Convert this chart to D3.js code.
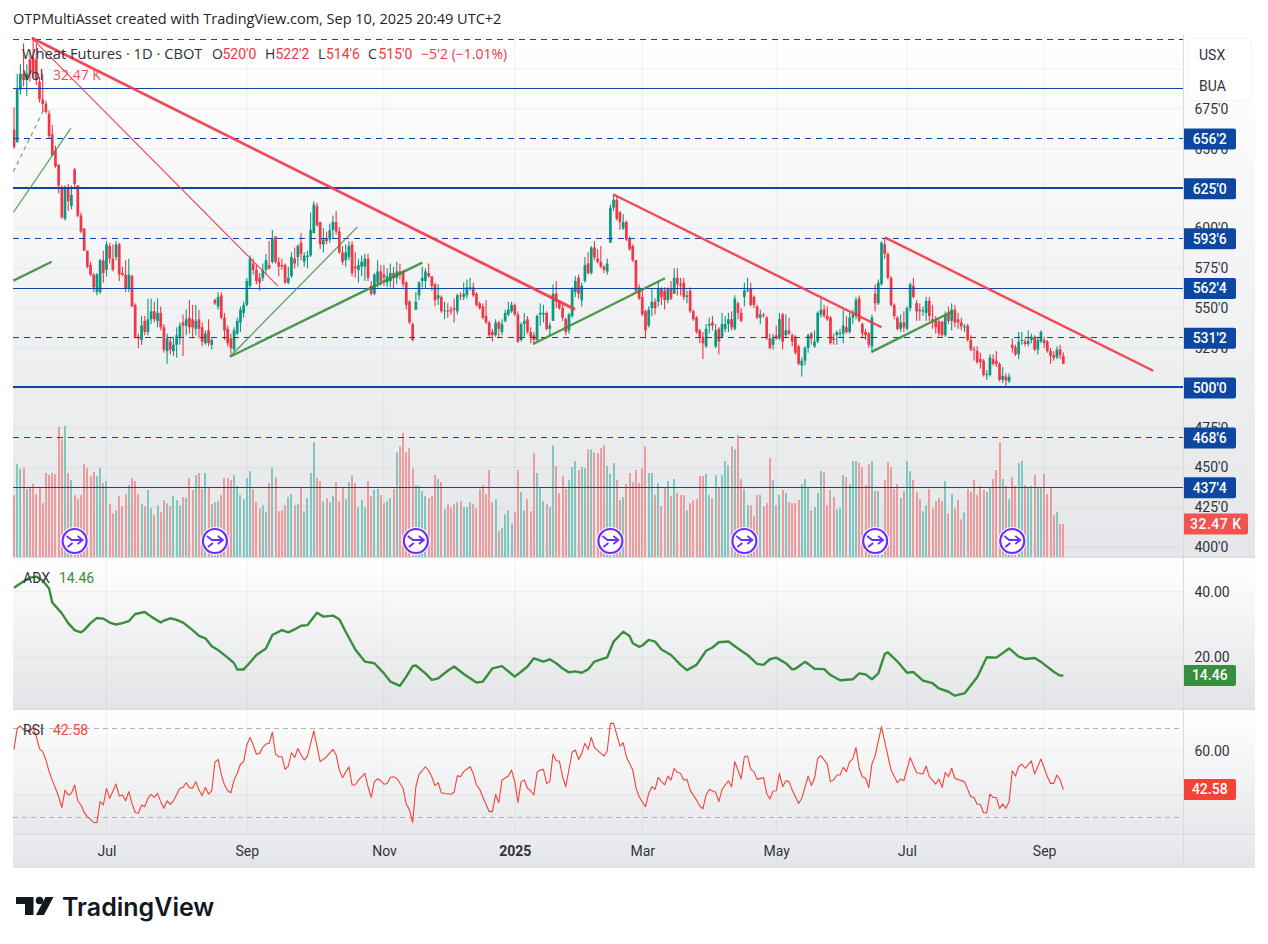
<!DOCTYPE html>
<html>
<head>
<meta charset="utf-8">
<title>Wheat Futures</title>
<script src="https://cdn.jsdelivr.net/npm/d3@7"></script>
<style>
  html, body { margin: 0; padding: 0; background: #fff; }
  svg { display: block; font-family: Roboto, "Open Sans", sans-serif; }
</style>
</head>
<body>
<svg id="chart" width="1268" height="944"></svg>
<script>
// Daily candles, oldest first
const opens = [
662,654,687,697,693,706,707,706,692,681,678,672,659,649,640,626,606,626,614,637,
627,608,600,586,577,571,560,560,580,574,589,581,582,590,572,571,562,570,552,532,
530,542,535,543,548,542,547,538,523,529,523,527,532,541,539,544,543,537,543,538,
528,536,527,555,551,558,544,537,531,524,534,541,547,552,564,578,574,569,569,574,
577,579,595,579,577,577,566,570,581,582,591,579,582,583,597,614,604,590,594,593,
599,604,598,585,580,582,590,576,574,576,576,581,564,559,566,573,571,566,567,572,
569,573,573,
566,554,540,549,558,567,567,572,570,565,556,557,548,548.5,549,550,548,558,557,558,
562,563,559,553,551,545,541,535,533,541,535,542,546,548,552,546,530,540,543,535,
533,530,546,546,547,537,542,559,554,550,543,536,545,560,569,555,567,578,572,588,
581,579,576,573,591,613,618,610,600,604,594,589,580,563,557,548,539,550,554,554,
562,561,555,562,559,569,565,566,557,561,548,544,536,532,526,539,541,526,537,532,
537,540,543,537,553,547,557,561,562,557,551,544,546,544,531,527,533,531,546,533,
536,533,532,526,514,517,525,534,526,529,
546,549,545,544,531,533,534,534,538,535,544,545,556,540,535,534,526,559,553,565,
590,584,569,552,544,537,541,537,550,564,553,549,548,547,554.5,543,543,541.5,541.5,533,
547,542,549,543,541,538,539,530,524,523,518,517,508,508,518,517,515,505,507,504,
527,525.5,521,529.5,529,527.5,530,532,524,529,530,529,523,520.5,519,524,520];
const highs = [
676,697,703,716,703,712,720,716,695,697,680,674,665,652,640,627,627,628,627,638,
627,610,600,586,579,572,572,581,586,592,591,590,592,591,576,580,581,571,553,534,
545,545,556,556,554,556,551,540,534,532,532,538,541,546,549,555,552,552,549,541,
536,543,531,556,560,560,547,539,534,538,544,551,554,569,583,581,577,572,578,584,
592,599,595,582,581,578,576,585,588,590,597,585,586,610,617,616,604,600,598,603,
608,611,601,589,590,592,592,585,581,583,584,584,567,572,580,577,577,575,578,576,
579,578,574,
567,555,541,560,567,576,575,578,570,566,565,558,554,553,551,556,559,560,566,568,
569,566,560,554,553,555,542,537,543,542,543,549,554,554,553,548,541,547,545,538,
535,546,553,552,548,541,565,567,555,553,544,547,563,570,571,566,582,585,589,592,
587,589,577,581,615,621,621,611,609,605,595,590,580,565,562,549,551,562,556,567,
563,563,563,567,575,575,569,569,561,563,549,545,537,535,540,544,545,540,538,547,
545,547,548,558,554,550,566,569,566,558,552,549,547,545,534,534,539,547,547,546,
544,534,533,527,519,526,534,535,536,548,
556,552,551,545,534,536,537,549,545,547,549,557,558,541,537,535,546,565,568,592,
594,585,570,553,545,546,548,551,566,569,555,553,551,557,557,552,545,543,542,548,
551,553,552,547,544,540,540,533,526,526,522,518,511,521,521,523,516,513,509,509,
531,527,535,535,531,536,534,533,532,536,532,530,525,523,526,527,522.25];
const lows = [
650,654,684,689,683,692,695,690,679,673,672,656,645,638,622,606,605,611,612,626,
607,597,586,575,570,560,558,559,566,570,578,573,580,567,570,560,560,551,531,525,
527,533,533,540,541,538,536,522,515,521,520,519,527,520,533,534,531,533,531,526,
527,526,524,552,549,543,530,526,521,522,533,535,544,551,562,571,565,561,567,571,
574,578,578,570,574,565,565,569,575,576,580,576,575,582,597,601,587,585,590,591,
594,596,584,577,576,580,570,569,566,570,567,567,558,558,563,564,564,563,563,562,
565,568,563,
549,540,529,549,555,563,562,569,561,551,552,547,543,544,546,541,546,555,555,556,
561,557,551,549,543,540,532,529,532,531,533,541,545,547,545,528,529,532,534,528,
527,529,539,541,536,533,542,550,549,542,533,534,544,557,556,551,566,571,571,580,
578,575,572,571,591,611,605,599,599,592,586,579,560,555,545,531,538,545,546,551,
552,549,553,555,559,558,558,555,553,547,542,534,528,518,525,534,536,525,521,531,
535,535,536,536,543,541,551,560,551,550,543,540,544,530,524,524,530,530,524,531,
533,526,521,514,507,514,522,527,525,528,
544,544,542,527,527,527,532,528,534,534,540,543,541,531,530,525,522,548,552,564,
581,568,551,543,536,535,535,536,548,556,542,542,545,542,542,537,534,532,532,532,
540,536,538,537,536,535,529,523,517,515,512,507,505,507,514,513,504,503,501,503,
522,520,518,527,526,526,528,523,521,528,525,522,515,517,518,518,514.75];
const closes = [
651,688,697,693,697,697,697,693,681,678,673,658,646,639,627,607,626,617,621,628,
608,598,586,576,571,563,571,580,572,590,581,574,590,571,571,562,571,551,532,531,
539,535,543,548,543,547,538,524,531,524,527,533,539,539,543,538,538,542,537,529,
534,528,530,553,557,544,536,528,525,536,542,549,552,567,581,574,567,566,574,580,
575,594,579,576,576,566,569,582,578,589,584,583,583,599,615,602,590,593,592,599,
604,598,585,579,585,589,572,575,577,579,581,569,559,571,573,567,569,570,572,569,
573,571,565,
552,541,530,554,566,569,573,570,564,555,558,548,548.5,548,548,549,558,557.5,559,563,
563,558,552,550,544,541,533,533,541,537,540,547,549,552,546,529,540,542,535,532,
530,545,547,547,537,539,559,554,550,544,535,546,562,567,559,564,577,572,588,582,
579,576,574,578,613,618,606,604,604,593,587,580,561,556,546,536,549,554,550,562,
557,555,562,556,569,565,564,557,558,548,543,535,532,528,537,540,539,536,529,540,
540,543,538,556,547,542,561,561.5,552,552,544,546,545.5,531,525,531,531,543,529,536,
534,529,522,515,517,525,533,531,529,547,
549,545,543,528,530,535,534.5,539,535,544,546,555,542,534,533,527,544,553,566,591,
584,569,552,545,537,541,538,550,565,557,548,548,548.5,554.5,545,541.5,538,534,533,546,
542,549,541,541,538.5,538.5,530,524,523.5,516,516,508,508.5,519,515,515,505,507.5,504.5,507,
525,521,529,530,527.5,529.5,532,524,530,535,528,523,520,519,524,520.5,515];

// Daily volume in thousands of contracts
const volumes = [
61,91.5,86.6,87.6,67,68,72,62,68,53,82.7,80.7,82.7,81.7,128,116,129,82.7,75.8,61,
57,61,91.5,87.6,79.7,83.6,79.7,87.6,72.8,74.8,52,43,46,60,50,62,70.8,77.7,74.8,62,
52,50,66,48,41,51,44,56,53,50,60,56,51,59,58,77.7,66,80.7,82.7,67,
82.7,68,52,54,55,61,77.7,77.7,75.8,80.7,70,61,57,77.7,84.6,67,54,48,51,44,
72.8,87.6,78.7,45,46,51,59,62,51,52,68,45,58,82.7,113,77.7,74.8,55,58,54,
60,73.8,55,68,57,73.8,80.7,72.8,49,56,49,74.8,60,66,67,61,53,55,58,67,
103,109,122,103,107,87.6,70.8,70,
65,60,58,60,80.7,76.8,73.8,47,52,49,52,54,55,49,49,54,52,48,67,70.8,
62,85.6,54,57,25.6,28.5,42,46,33,44,85.6,64,46,57,45,102,82.7,68,55,52,
49,110,89.5,63,79.7,67,75.8,88.6,94.5,85.6,88.6,87.6,106,106,103,102,107,110,89.5,81.7,
92.5,75.8,56,59,71.8,82.7,73.8,85.6,72.8,87.6,109,82.7,82.7,61,72.8,50,68,74.8,60,76.8,
63,61,61,46,53,56,57,79.7,79.7,81.7,61,58,80.7,68,80.7,94.5,90.5,109,106,120,
76.8,67,51,51,40,61,61,50,53,97.4,75.8,51,61,66,63,54,53,53,56,71.8,
76.8,68,46,49,63,84.6,83.6,51,66,59,47,48,
80.7,78.7,71.8,94.5,94.5,92.5,88.6,70.8,91.5,94.5,65,65,2,75.8,93.5,88.6,67,71.8,58,65,
94.5,84.6,75.8,64,57,45,51,67,48,55,58,55,74.8,43,62,48,56,37,44,67,
64,75.8,61,70,66,64,68,76.8,85.6,113,76.8,70,57,78.7,70,92.5,94.5,70.8,69,70,
80.7,68,68,81.7,62,68,41,44,32.5,32.47];

// ADX vertices: bar number and reading
const adxBars = [0,2,5,7,9,11,12,15,17,19,21,22,24,26,28,30,32,34,36,38,41,43,46,47,49,51,53,56,58,60,62,64,67,69,70,72,74,76,79,81,84,86,88,90,92,95,97,100,102,104,107,110,113,116,118,121,123,125,126,129,131,133,136,138,141,145,147,150,153,157,159,161,163,166,168,170,172,174,176,178,180,182,186,188,191,193,194,196,197,199,201,203,206,209,211,214,217,219,221,224,227,230,232,233,235,237,239,242,244,245,248,249,251,254,256,259,263,265,267,269,271,273,274,277,280,282,285,288,290,293,295,298,302,305,308,312,315,317,320,322,326,328,329];
const adxValues = [41.2,42.5,44.3,44.6,43.4,41,36.7,33.4,30.4,28.3,27.6,28.3,30.4,32,31.8,30.6,30,30.4,31,33.2,33.8,32.4,30.6,31.2,31.9,31.4,30.6,28.3,26.5,25.8,23.4,22.2,19.9,18.2,16.3,16.3,18.4,20.7,22.7,26.8,28.3,27.6,28.5,29.6,29.8,33.6,32.4,32.7,31.6,27.8,22.4,18.7,18.2,15.1,12.6,11.3,14.1,17.3,17.5,15.1,13.1,13.6,15.9,17.2,14.9,12.3,12.6,16.6,17.3,14.1,15.6,17.2,19.7,18.7,19.4,18.2,16.6,15.4,15.7,15.3,16.3,18.7,20,24.8,27.8,26.5,24.3,23.2,23.6,25.3,24.8,22.4,20.7,17.7,16.1,17.7,22,23,24.6,24.8,22.7,20.7,18.9,18,17.7,19.4,19.9,18.2,16.3,16.5,18.6,18,16.5,16.4,14.6,13,13.3,15.1,14.8,13.3,15.1,21,21.5,18.7,15.3,15.5,12.9,12.1,10.5,9.5,8.3,9,13.9,20,19.9,22.7,20.2,19.5,19.8,18.6,15.6,14.4,14.46];

// RSI vertices: bar number and reading
const rsiBars = [0,1,2,3,5,6,7,8,9,10,11,12,13,14,15,16,17,18,19,20,21,22,23,25,26,27,28,29,30,32,33,34,35,36,37,38,39,40,41,42,43,44,45,46,47,48,49,50,52,53,54,55,56,57,58,59,60,61,62,63,64,65,66,67,68,69,70,71,72,73,74,75,76,77,78,79,80,81,82,83,84,85,86,87,88,89,90,91,92,94,96,98,100,101,102,103,105,106,107,108,110,111,112,113,114,115,116,117,118,119,120,122,123,124,125,126,127,128,129,130,131,132,133,134,135,137,138,139,140,141,143,144,145,146,147,149,150,151,152,153,155,156,157,158,159,160,161,162,163,164,165,166,167,168,169,170,171,172,173,175,176,177,178,179,180,181,182,184,185,186,187,188,190,191,192,194,195,196,198,199,200,201,202,203,204,205,206,207,208,209,210,211,212,214,215,216,217,218,220,221,222,224,225,226,228,229,230,231,232,233,235,236,237,238,239,240,241,242,243,244,246,247,249,250,251,252,253,255,256,257,258,259,260,261,262,263,264,265,266,267,268,269,270,272,273,275,277,278,279,281,283,285,286,287,289,290,291,292,293,294,295,296,298,300,301,302,303,304,305,306,307,308,309,310,311,312,313,314,315,316,317,319,320,322,324,325,326,327,328,329];
const rsiValues = [60.6,70,71.1,69.3,68.6,70.4,66.3,60.8,59.6,55.8,50.6,46.8,43.1,39.3,34.4,42.3,40.1,40.8,44.6,37.5,35.6,32.3,30.4,27.8,27.7,37.1,35.6,43.1,38.6,45,39.6,40.1,37.5,41.6,36.3,32.2,31.9,35.6,34.8,38.6,40.4,39,40.8,37.1,34.1,37.5,35.9,37.5,43.1,43.5,45.6,43.4,43.1,46.1,42.3,39.8,43.5,40.5,42,54.8,56.1,49.1,44.6,42,41.1,46.8,49.8,53.9,55.1,62.6,66,62.6,58.4,58.8,61.5,63,63.3,68.3,58.5,57.3,57.3,51.6,53.1,59.1,57,61,58.1,55.8,57.6,68.9,55.1,57.3,60.6,58.1,51.3,47.9,52.8,44.6,44.6,46.8,49.8,43.8,39,46.1,47.4,46.5,44.9,45.3,48,48.3,47.6,43.1,35.9,33.4,27.7,43.8,49.4,51,52.8,51,48.3,44.3,45.6,41.1,40.8,40.4,41.3,48.8,48.3,50.6,52.8,49.8,44.6,42.7,39.2,32.6,32.6,40.4,36.6,46.8,48.6,51.3,46.1,36.8,46.1,46.8,43.1,42,40.1,50.3,51.3,51.6,45.3,46.1,58.5,55.5,55.4,48.3,43.8,59.3,60.3,56.1,58.8,63.3,60.6,66,61.4,58.8,57.6,59.9,72.3,72.3,62.1,63.6,57.3,51.3,43.5,39.3,34.8,40.8,43.8,42.6,48,46.1,44.6,48.6,46.8,52.1,50.3,49.8,46.8,47.1,42.3,37.8,35.1,33.9,40.1,42.6,41.3,37.1,42.6,46.5,43.8,55.1,47.3,57.3,57.6,51.6,50.6,47.1,47.9,40.8,38.3,41.9,42,49.8,43.8,46.5,46.1,42.3,36.3,38.6,48.6,44.4,47.6,56.6,57.8,54,46.1,46.8,49.1,49.1,52.5,50.6,55.1,56.3,61.4,52.1,48.3,47.6,43.4,54,57.8,70.8,64.1,51.3,45.6,47.3,46.5,56.9,50.1,49.5,53.1,48.3,45,47.3,43.5,50.3,48.3,52.1,47.6,47.1,46.1,39.3,39,35.9,35.9,32.1,32.1,40.5,39,39,34.1,36,34.1,37.1,51,48.6,52.8,54,52.1,55.4,49.5,56.3,48.3,45.3,45.3,49.1,46.8,42.58];

// Horizontal price levels: value and line style
const levelPrices = [718.75,687.5,656.25,625,593.75,562.5,531.25,500,468.75,437.5];
const levelWidths = [1,1,1,2,1,1,1,2,1,1];
const levelDashed = [true,false,true,false,true,false,true,false,true,false];
const levelLabelled = [false,false,true,true,true,true,true,true,true,true];

// Trend lines: bar and price at each end
const trendRed = [
  {b0:5.6,p0:719.4,b1:175.9,p1:549.2,w:2.8,op:0.9},
  {b0:5.6,p0:719.4,b1:82.7,p1:563.9,w:1.2,op:0.9},
  {b0:187.8,p0:621.4,b1:272,p1:538,w:2.4,op:0.9},
  {b0:273,p0:594.4,b1:357.2,p1:510.7,w:2.4,op:0.9}
];
const trendGreen = [
  {b0:-0.2,p0:567.2,b1:11.8,p1:579.1,w:2.4,op:0.9},
  {b0:-0.2,p0:610,b1:17.8,p1:662.8,w:1.2,op:0.85},
  {b0:-0.2,p0:635.6,b1:10.8,p1:680.5,w:1.2,op:0.75,dash:"4 4"},
  {b0:67.7,p0:519.5,b1:128,p1:578.5,w:2.4,op:0.9},
  {b0:67.7,p0:519.5,b1:107.7,p1:601,w:1.2,op:0.85},
  {b0:162.8,p0:527.5,b1:204.1,p1:568.7,w:2.4,op:0.9},
  {b0:268.9,p0:522.5,b1:294,p1:547.7,w:2.4,op:0.9}
];

// Contract roll markers, by bar
const rollBars = [19,63,126,187,229,270,313];

// Time axis ticks: bar number and caption
const monthBars = [29,73,116,157,197,239,280,323];
const monthLabels = ["Jul","Sep","Nov","2025","Mar","May","Jul","Sep"];

const priceTicks = d3.range(400,701,25);
const adxTicks = [20,40];
const rsiTicks = [40,60];
const rsiBands = [30,70];

const RED = "#f23645", GREEN = "#089981", NAVY = "#0d47a1";
const left = 13, plotRight = 1183.5, right = 1255;

const svg = d3.select("#chart");
const defs = svg.append("defs");

// Each pane fades from white to a light grey
const panes = [
  {id:"main", y0:35, y1:557, end:"#e5e6e9"},
  {id:"adx", y0:558, y1:709, end:"#e3e4e7"},
  {id:"rsi", y0:710, y1:834, end:"#e7e8eb"},
  {id:"time", y0:834, y1:868, end:"#e3e4e7", start:"#ecedf0"}
];
panes.forEach(p => {
  const g = defs.append("linearGradient").attr("id","grad-"+p.id)
    .attr("x1",0).attr("x2",0).attr("y1",0).attr("y2",1);
  g.append("stop").attr("offset",0).attr("stop-color",p.start || "#ffffff");
  g.append("stop").attr("offset",1).attr("stop-color",p.end);
  svg.append("rect").attr("x",left).attr("y",p.y0)
    .attr("width",right-left).attr("height",p.y1-p.y0)
    .attr("fill","url(#grad-"+p.id+")");
});
defs.append("clipPath").attr("id","plot-clip").append("rect")
  .attr("x",left).attr("y",35).attr("width",plotRight-left).attr("height",522);

// Scales
const x = d3.scaleLinear().domain([0,329]).range([14,1063.3]);
const yPrice = d3.scaleLinear().domain([400,700]).range([547.2,69]);
const yVol = d3.scaleLinear().domain([0,130]).range([557,425]);
const yAdx = d3.scaleLinear().domain([20,40]).range([657.3,591.7]);
const yRsi = d3.scaleLinear().domain([40,60]).range([795.2,750.7]);
const px = i => Math.round(x(i));

const fmtPrice = v => {
  const whole = Math.floor(v);
  return whole + "'" + Math.round((v-whole)*8);
};

// Grid
const grid = svg.append("g").attr("stroke","#2a2e39").attr("stroke-opacity",0.06).attr("stroke-width",1);
const hgrid = (ticks, scale) => grid.selectAll(null).data(ticks).join("line")
  .attr("x1",left).attr("x2",plotRight)
  .attr("y1",d=>scale(d)).attr("y2",d=>scale(d));
hgrid(priceTicks,yPrice); hgrid(adxTicks,yAdx); hgrid(rsiTicks,yRsi);
[[35,557],[558,709],[710,834]].forEach(([a,b]) => {
  grid.selectAll(null).data(monthBars).join("line")
    .attr("x1",d=>x(d)).attr("x2",d=>x(d)).attr("y1",a).attr("y2",b);
});

// Volume bars sit under the candles, tinted by candle direction
const up = i => closes[i] >= opens[i];
svg.append("g").selectAll("rect").data(volumes).join("rect")
  .attr("x",(d,i)=>px(i)-1).attr("width",2)
  .attr("y",d=>yVol(d)).attr("height",d=>yVol(0)-yVol(d))
  .attr("fill",(d,i)=>up(i) ? "#83c6bd" : "#ec9c9d");

// Candles
const candles = svg.append("g").attr("clip-path","url(#plot-clip)");
candles.selectAll("rect.wick").data(closes).join("rect").attr("class","wick")
  .attr("x",(d,i)=>x(i)-0.55).attr("width",1.1)
  .attr("y",(d,i)=>yPrice(highs[i]))
  .attr("height",(d,i)=>yPrice(lows[i])-yPrice(highs[i]))
  .attr("fill",(d,i)=>up(i)?GREEN:RED);
candles.selectAll("rect.body").data(closes).join("rect").attr("class","body")
  .attr("x",(d,i)=>x(i)-1.35).attr("width",2.7)
  .attr("y",(d,i)=>yPrice(Math.max(opens[i],closes[i])))
  .attr("height",(d,i)=>Math.max(1,Math.abs(yPrice(opens[i])-yPrice(closes[i]))))
  .attr("fill",(d,i)=>up(i)?GREEN:RED);

// Price levels, snapped to whole pixels so thin lines stay crisp
const snap = (v,w) => w % 2 ? Math.floor(v)+0.5 : Math.floor(v);
svg.append("g").selectAll("line").data(levelPrices).join("line")
  .attr("x1",left).attr("x2",plotRight)
  .attr("y1",(d,i)=>snap(yPrice(d),levelWidths[i])).attr("y2",(d,i)=>snap(yPrice(d),levelWidths[i]))
  .attr("stroke",NAVY)
  .attr("stroke-width",(d,i)=>levelWidths[i])
  .attr("stroke-dasharray",(d,i)=>levelDashed[i]?"6 5":null);

// Trend lines
const drawTrends = (rows,color) => svg.append("g").attr("clip-path","url(#plot-clip)")
  .selectAll("line").data(rows).join("line")
  .attr("x1",d=>x(d.b0)).attr("y1",d=>yPrice(d.p0))
  .attr("x2",d=>x(d.b1)).attr("y2",d=>yPrice(d.p1))
  .attr("stroke",color).attr("stroke-width",d=>d.w)
  .attr("stroke-opacity",d=>d.op).attr("stroke-dasharray",d=>d.dash||null);
drawTrends(trendRed,RED);
drawTrends(trendGreen,"#388e3c");

// Contract roll markers
const rolls = svg.append("g").selectAll("g").data(rollBars).join("g")
  .attr("transform",d=>`translate(${x(d)},541)`);
rolls.append("circle").attr("r",14).attr("fill","#fff");
rolls.append("circle").attr("r",12).attr("fill","#fff").attr("stroke","#6b2cff").attr("stroke-width",2.2);
rolls.append("path").attr("d","M-8,-5 L-3,-1 H7 M3,-5 L8,-1 L3,3 M-7,6 L-2,2")
  .attr("fill","none").attr("stroke","#6b2cff").attr("stroke-width",1.8);

// ADX and RSI lines
const lineOf = (bars,scale) => d3.line().x((d,i)=>x(bars[i])).y(d=>scale(d));
svg.append("path").datum(adxValues).attr("d",lineOf(adxBars,yAdx))
  .attr("fill","none").attr("stroke","#388e3c").attr("stroke-width",2.4).attr("stroke-linejoin","round");
svg.append("g").selectAll("line").data(rsiBands).join("line")
  .attr("x1",left).attr("x2",plotRight)
  .attr("y1",d=>Math.floor(yRsi(d))+0.5).attr("y2",d=>Math.floor(yRsi(d))+0.5)
  .attr("stroke","#b0b2b8").attr("stroke-dasharray","5 4");
svg.append("path").datum(rsiValues).attr("d",lineOf(rsiBars,yRsi))
  .attr("fill","none").attr("stroke","#f44336").attr("stroke-width",1.1).attr("stroke-linejoin","round");

// Pane borders
const borders = svg.append("g").attr("stroke","#d9dade").attr("stroke-width",1);
borders.append("line").attr("x1",plotRight).attr("x2",plotRight).attr("y1",35).attr("y2",868);
[557.5,709.5,834.5].forEach(y => borders.append("line").attr("x1",left).attr("x2",right).attr("y1",y).attr("y2",y));

// Right-hand axes, with their domain lines and tick marks hidden
const styleAxis = g => {
  g.select(".domain").remove();
  g.selectAll(".tick line").remove();
  g.selectAll(".tick text").attr("fill","#30333c").attr("font-size",14)
    .attr("font-family","Roboto, sans-serif");
};
svg.append("g").attr("transform",`translate(${plotRight},0)`)
  .call(d3.axisRight(yPrice).tickValues(priceTicks).tickFormat(fmtPrice).tickPadding(11).tickSize(0))
  .call(styleAxis);
const paneFormat = d3.format(".2f");
svg.append("g").attr("transform",`translate(${plotRight},0)`)
  .call(d3.axisRight(yAdx).tickValues(adxTicks).tickFormat(paneFormat).tickPadding(11).tickSize(0))
  .call(styleAxis);
svg.append("g").attr("transform",`translate(${plotRight},0)`)
  .call(d3.axisRight(yRsi).tickValues(rsiTicks).tickFormat(paneFormat).tickPadding(11).tickSize(0))
  .call(styleAxis);

// Time axis
const timeAxis = svg.append("g").attr("transform","translate(0,835)")
  .call(d3.axisBottom(x).tickValues(monthBars).tickFormat((d,i)=>monthLabels[i]).tickPadding(11).tickSize(0));
timeAxis.select(".domain").remove();
timeAxis.selectAll(".tick text").attr("fill","#30333c").attr("font-size",14)
  .attr("font-family","Roboto, sans-serif")
  .attr("font-weight",(d,i)=>monthLabels[i]==="2025"?700:400);

// Value badges on the price scale
const badge = (y,width,fill,label,spacing=0) => {
  const h = 21, r = 2;
  svg.append("path")
    .attr("d",`M${plotRight+0.5},${y-h/2} H${plotRight+width-r} q${r},0 ${r},${r} V${y+h/2-r} q0,${r} ${-r},${r} H${plotRight+0.5} Z`)
    .attr("fill",fill);
  svg.append("text").attr("x",plotRight+width/2).attr("y",y+5)
    .attr("text-anchor","middle").attr("fill","#fff").attr("font-size",14).attr("font-weight",500)
    .attr("letter-spacing",spacing)
    .text(label);
};
levelPrices.forEach((p,i) => { if (levelLabelled[i]) badge(yPrice(p)+0.3,52.5,NAVY,fmtPrice(p)); });
const lastVolume = volumes[volumes.length-1];
badge(yVol(lastVolume),64.5,"#f05350",d3.format(".2f")(lastVolume)+" K",0.5);
const lastAdx = adxValues[adxValues.length-1];
badge(yAdx(lastAdx),52.5,"#388e3c",paneFormat(lastAdx));
const lastRsi = rsiValues[rsiValues.length-1];
badge(yRsi(lastRsi),52.5,"#f44336",paneFormat(lastRsi));

// Currency and unit box
svg.append("rect").attr("x",1188).attr("y",38.5).attr("width",63).attr("height",62).attr("rx",5)
  .attr("fill","#fff").attr("stroke","#f0f3fa");
const unit = (t,y) => svg.append("text").attr("x",1199).attr("y",y).attr("fill","#30333c").attr("font-size",14).text(t);
unit("USX",60); unit("BUA",91);

// Text helpers for the legends
const label = (t,lx,ly,fill,size=14,weight=400,family="Roboto, sans-serif") => svg.append("text")
  .attr("x",lx).attr("y",ly).attr("fill",fill).attr("font-size",size).attr("font-weight",weight)
  .attr("font-family",family).text(t);
const WIDE = '"Open Sans", Roboto, sans-serif';

label("OTPMultiAsset created with TradingView.com, Sep 10, 2025 20:49 UTC+2",13,24,"#1f222b",14.5,400,WIDE);

const INK = "#30333c";
label("Wheat Futures · 1D · CBOT",22,59,INK,14.7,400,WIDE);
const last = opens.length-1;
[["O",opens[last],212],["H",highs[last],265],["L",lows[last],318],["C",closes[last],368]].forEach(([k,v,lx]) => {
  label(k,lx,59,INK,14,400,WIDE);
  label(fmtPrice(v),lx+(k==="L"?8:10.5),59,RED);
});
label("−5'2 (−1.01%)",421,59,RED,14,400,WIDE);
label("Vol",23,80,INK,14,400,WIDE);
label(d3.format(".2f")(lastVolume)+" K",53,80,"#f05350",14,400,WIDE);
label("ADX",23,583,INK);
label(paneFormat(lastAdx),59,583,"#388e3c");
label("RSI",23,735,INK);
label(paneFormat(lastRsi),53,735,"#f44336");

// Wordmark below the chart
const logo = svg.append("g").attr("fill","#131722");
logo.append("path").attr("d","M16,897 H33.5 V915 H25 V904 H16 Z");
logo.append("circle").attr("cx",39.5).attr("cy",900.5).attr("r",3.8);
logo.append("path").attr("d","M45.5,897 H53.5 L44,915 H36 Z");
label("TradingView",62,916,"#131722",25,600,"Inter, Roboto, sans-serif");
</script>
</body>
</html>
